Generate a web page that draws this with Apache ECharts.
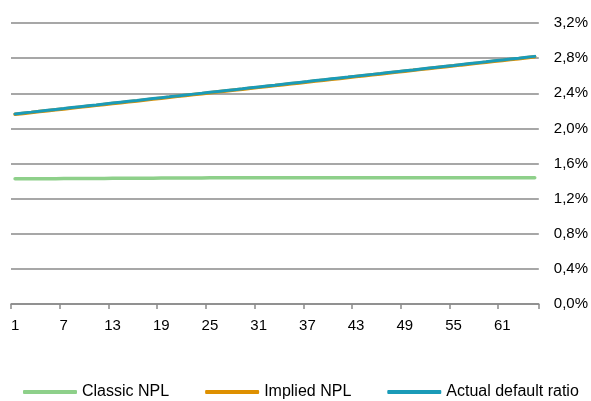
<!DOCTYPE html>
<html>
<head>
<meta charset="utf-8">
<script src="https://cdn.jsdelivr.net/npm/echarts@6/dist/echarts.min.js"></script>
<style>
  html, body { margin: 0; padding: 0; background: #ffffff; }
  #chart { width: 591px; height: 401px; }
</style>
</head>
<body>
<div id="chart"></div>
<script>
// Period index 1..65
const periods = [];
for (let i = 1; i <= 65; i++) periods.push(String(i));

// Ratios in percent
const classicNPL = [
  1.425, 1.425, 1.426, 1.426, 1.427, 1.427, 1.428, 1.428, 1.429, 1.429,
  1.430, 1.430, 1.431, 1.431, 1.432, 1.432, 1.433, 1.433, 1.434, 1.434,
  1.435, 1.435, 1.436, 1.436, 1.437, 1.437, 1.437, 1.437, 1.437, 1.437,
  1.437, 1.437, 1.437, 1.437, 1.437, 1.437, 1.437, 1.437, 1.437, 1.437,
  1.437, 1.437, 1.437, 1.437, 1.437, 1.437, 1.437, 1.437, 1.437, 1.437,
  1.437, 1.437, 1.437, 1.437, 1.437, 1.437, 1.437, 1.437, 1.437, 1.437,
  1.437, 1.437, 1.437, 1.437, 1.437
];

const impliedNPL = [
  2.160, 2.170, 2.180, 2.191, 2.201, 2.211, 2.221, 2.232, 2.242, 2.252,
  2.262, 2.273, 2.283, 2.293, 2.303, 2.313, 2.324, 2.334, 2.344, 2.354,
  2.365, 2.375, 2.385, 2.395, 2.406, 2.416, 2.426, 2.436, 2.446, 2.457,
  2.467, 2.477, 2.487, 2.498, 2.508, 2.518, 2.528, 2.539, 2.549, 2.559,
  2.569, 2.579, 2.590, 2.600, 2.610, 2.620, 2.631, 2.641, 2.651, 2.661,
  2.672, 2.682, 2.692, 2.702, 2.712, 2.723, 2.733, 2.743, 2.753, 2.764,
  2.774, 2.784, 2.794, 2.805, 2.815
];

const actualDefaultRatio = [
  2.165, 2.175, 2.185, 2.196, 2.206, 2.216, 2.226, 2.237, 2.247, 2.257,
  2.267, 2.278, 2.288, 2.298, 2.308, 2.318, 2.329, 2.339, 2.349, 2.359,
  2.370, 2.380, 2.390, 2.400, 2.411, 2.421, 2.431, 2.441, 2.451, 2.462,
  2.472, 2.482, 2.492, 2.503, 2.513, 2.523, 2.533, 2.544, 2.554, 2.564,
  2.574, 2.584, 2.595, 2.605, 2.615, 2.625, 2.636, 2.646, 2.656, 2.666,
  2.677, 2.687, 2.697, 2.707, 2.717, 2.728, 2.738, 2.748, 2.758, 2.769,
  2.779, 2.789, 2.799, 2.810, 2.820
];

const seriesNames = ['Classic NPL', 'Implied NPL', 'Actual default ratio'];
const seriesColors = ['#8ed08a', '#de9000', '#1a9bb8'];

const chart = echarts.init(document.getElementById('chart'), null, { renderer: 'canvas' });

const fontFamily = 'Liberation Sans, Arial, sans-serif';

chart.setOption({
  animation: false,
  backgroundColor: '#ffffff',
  color: seriesColors,
  grid: { left: 11, right: 51, top: 23, bottom: 97 },
  legend: {
    top: 384,
    left: 23,
    width: 600,
    padding: 0,
    icon: 'roundRect',
    itemWidth: 54,
    itemHeight: 4,
    itemGap: 36,
    textStyle: { fontFamily: fontFamily, fontSize: 16, color: '#000000' },
    data: seriesNames
  },
  xAxis: {
    type: 'category',
    data: periods,
    boundaryGap: true,
    axisLine: { show: true, lineStyle: { color: '#8a8a8a', width: 1.5 } },
    axisTick: { show: true, interval: 5, length: 5, lineStyle: { color: '#8a8a8a', width: 1.5 } },
    axisLabel: { interval: 5, margin: 14, color: '#000000', fontFamily: fontFamily, fontSize: 15 },
    splitLine: { show: false }
  },
  yAxis: {
    type: 'value',
    position: 'right',
    min: 0,
    max: 3.2,
    interval: 0.4,
    axisLine: { show: false },
    axisTick: { show: false },
    axisLabel: {
      margin: 15,
      color: '#000000',
      fontFamily: fontFamily,
      fontSize: 15,
      formatter: v => v.toFixed(1).replace('.', ',') + '%'
    },
    splitLine: { show: true, lineStyle: { color: '#8a8a8a', width: 1.5 } }
  },
  series: [
    {
      name: seriesNames[0], type: 'line', data: classicNPL,
      symbol: 'none', lineStyle: { width: 3.5, cap: 'round' }
    },
    {
      name: seriesNames[1], type: 'line', data: impliedNPL,
      symbol: 'none', lineStyle: { width: 3.5, cap: 'round' }
    },
    {
      name: seriesNames[2], type: 'line', data: actualDefaultRatio,
      symbol: 'none', lineStyle: { width: 3, cap: 'round' }
    }
  ]
});
</script>
</body>
</html>
